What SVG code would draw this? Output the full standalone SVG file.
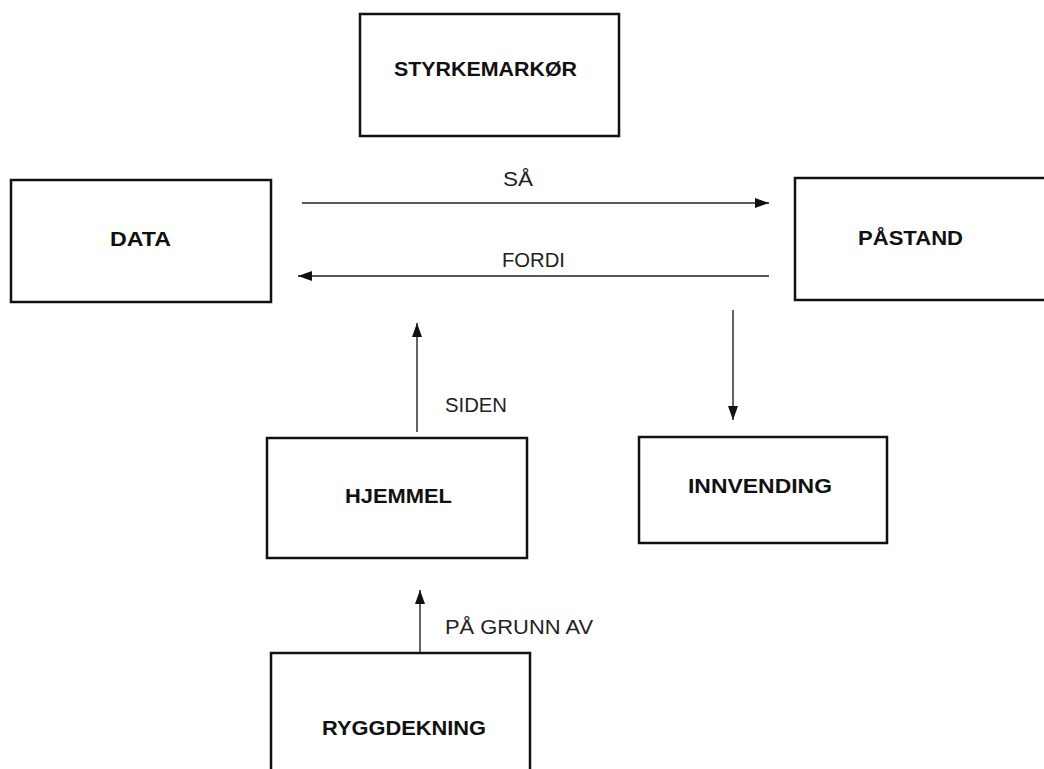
<svg xmlns="http://www.w3.org/2000/svg" width="1044" height="769" viewBox="0 0 1044 769">
  <style>
    .box { fill: #ffffff; stroke: #111111; stroke-width: 2.5; }
    .title { font-family: "Liberation Sans", Arial, sans-serif; font-weight: bold; font-size: 21px; fill: #111111; }
    .label { font-family: "Liberation Sans", Arial, sans-serif; font-size: 20px; fill: #222222; }
    .edge { stroke: #222222; stroke-width: 1.4; fill: none; marker-end: url(#arrow); }
  </style>
  <defs>
    <marker id="arrow" markerUnits="userSpaceOnUse" markerWidth="14" markerHeight="10" refX="14" refY="5" orient="auto">
      <path d="M0,0 L14,5 L0,10 Z" fill="#111111"/>
    </marker>
  </defs>
  <rect width="1044" height="769" fill="#ffffff"/>

  <!-- connectors -->
  <g id="connectors">
    <g id="edge-data-pastand">
      <line class="edge" x1="302" y1="203" x2="769" y2="203"/>
      <text class="label" x="503" y="186" textLength="30" lengthAdjust="spacingAndGlyphs">SÅ</text>
    </g>
    <g id="edge-pastand-data">
      <line class="edge" x1="769" y1="276" x2="298" y2="276"/>
      <text class="label" x="502" y="267" textLength="63" lengthAdjust="spacingAndGlyphs">FORDI</text>
    </g>
    <g id="edge-hjemmel-data">
      <line class="edge" x1="417" y1="432" x2="417" y2="323"/>
      <text class="label" x="445" y="412" textLength="62" lengthAdjust="spacingAndGlyphs">SIDEN</text>
    </g>
    <g id="edge-pastand-innvending">
      <line class="edge" x1="733" y1="310" x2="733" y2="420"/>
    </g>
    <g id="edge-ryggdekning-hjemmel">
      <line class="edge" x1="420" y1="657" x2="420" y2="590"/>
      <text class="label" x="445" y="634" textLength="148" lengthAdjust="spacingAndGlyphs">PÅ GRUNN AV</text>
    </g>
  </g>

  <!-- nodes -->
  <g id="styrkemarkor">
    <rect class="box" x="360" y="14" width="259" height="122"/>
    <text class="title" x="394" y="76" textLength="183" lengthAdjust="spacingAndGlyphs">STYRKEMARKØR</text>
  </g>
  <g id="data">
    <rect class="box" x="11" y="180" width="260" height="122"/>
    <text class="title" x="110" y="246" textLength="61" lengthAdjust="spacingAndGlyphs">DATA</text>
  </g>
  <g id="pastand">
    <rect class="box" x="795" y="178" width="260" height="122"/>
    <text class="title" x="858" y="245" textLength="105" lengthAdjust="spacingAndGlyphs">PÅSTAND</text>
  </g>
  <g id="hjemmel">
    <rect class="box" x="267" y="438" width="260" height="120"/>
    <text class="title" x="345" y="503" textLength="107" lengthAdjust="spacingAndGlyphs">HJEMMEL</text>
  </g>
  <g id="innvending">
    <rect class="box" x="639" y="437" width="248" height="106"/>
    <text class="title" x="688" y="493" textLength="144" lengthAdjust="spacingAndGlyphs">INNVENDING</text>
  </g>
  <g id="ryggdekning">
    <rect class="box" x="271" y="653" width="259" height="130"/>
    <text class="title" x="322" y="735" textLength="164" lengthAdjust="spacingAndGlyphs">RYGGDEKNING</text>
  </g>
</svg>
